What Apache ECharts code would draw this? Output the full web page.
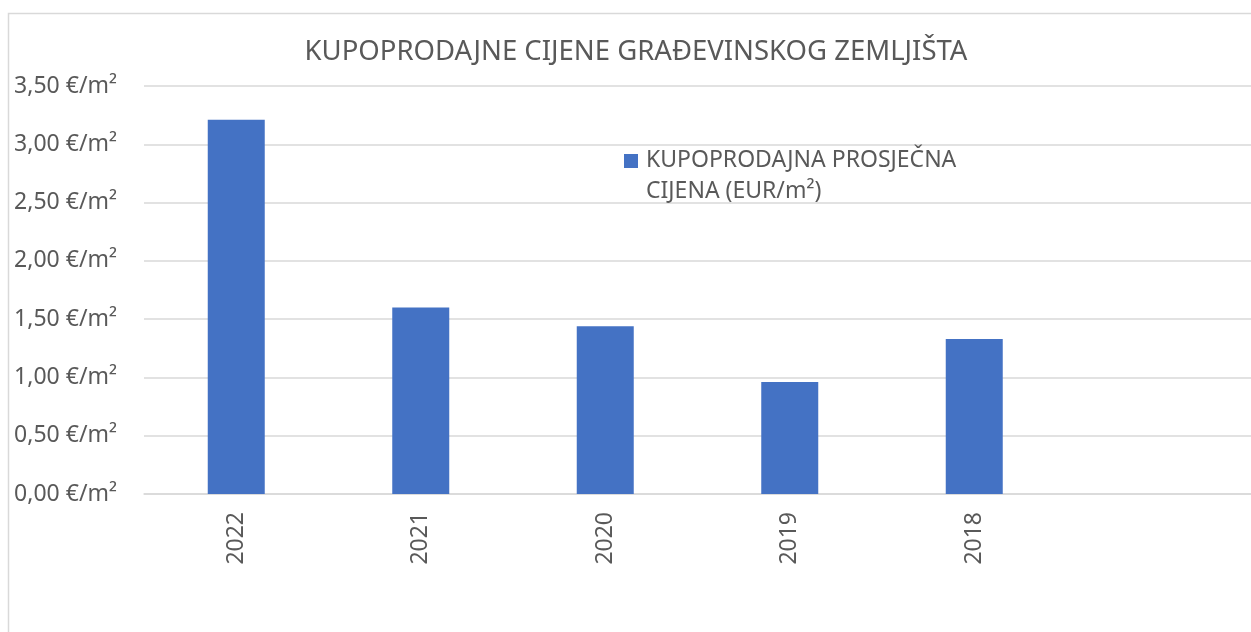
<!DOCTYPE html>
<html>
<head>
<meta charset="utf-8">
<script src="https://cdn.jsdelivr.net/npm/echarts@6/dist/echarts.min.js"></script>
<style>
  html, body { margin: 0; padding: 0; background: #fff; }
  #chart { width: 1251px; height: 632px; }
</style>
</head>
<body>
<div id="chart"></div>
<script>
// podaci
var godine = ['2022', '2021', '2020', '2019', '2018', ''];
var cijene = [3.21, 1.60, 1.44, 0.96, 1.33];
var nazivSerije = 'KUPOPRODAJNA PROSJEČNA CIJENA (EUR/m²)';

var myChart = echarts.init(document.getElementById('chart'));
var option = {
  backgroundColor: '#fff',
  textStyle: { fontFamily: 'Noto Sans' },
  title: {
    text: 'KUPOPRODAJNE CIJENE GRAĐEVINSKOG ZEMLJIŠTA',
    left: 631,
    textAlign: 'center',
    top: 33,
    textStyle: { color: '#595959', fontSize: 27.5, fontWeight: 'normal', fontFamily: 'Noto Sans' }
  },
  legend: {
    data: [nazivSerije],
    left: 624,
    top: 145,
    padding: 0,
    // kvadrat gore, tekst u dva reda
    icon: 'path://M0,0h14v14h-14zM17,44',
    itemWidth: 17,
    itemHeight: 44,
    formatter: function () { return 'KUPOPRODAJNA PROSJEČNA\nCIJENA (EUR/m²)'; },
    textStyle: { color: '#595959', fontSize: 23, lineHeight: 31, fontFamily: 'Noto Sans' }
  },
  graphic: [{
    type: 'rect',
    silent: true,
    z: -10,
    shape: { x: 8.5, y: 13.5, width: 1400, height: 800 },
    style: { fill: 'none', stroke: '#d9d9d9', lineWidth: 1.5 }
  }],
  grid: { left: 144, top: 86, width: 1108, bottom: 138 },
  xAxis: {
    type: 'category',
    data: godine,
    axisLine: { lineStyle: { color: '#d9d9d9', width: 1.5 } },
    axisTick: { show: false },
    axisLabel: { rotate: 90, margin: 18, color: '#595959', fontSize: 23, interval: 0 }
  },
  yAxis: {
    type: 'value',
    min: 0,
    max: 3.5,
    interval: 0.5,
    axisLine: { show: false },
    axisTick: { show: false },
    splitLine: { lineStyle: { color: '#d9d9d9', width: 1.5 } },
    axisLabel: {
      margin: 27,
      color: '#595959',
      fontSize: 23,
      formatter: function (v) { return v.toFixed(2).replace('.', ',') + ' €/m²'; }
    }
  },
  series: [{
    name: nazivSerije,
    type: 'bar',
    data: cijene,
    barWidth: 57,
    itemStyle: { color: '#4472c4' }
  }]
};
myChart.setOption(option);
</script>
</body>
</html>
